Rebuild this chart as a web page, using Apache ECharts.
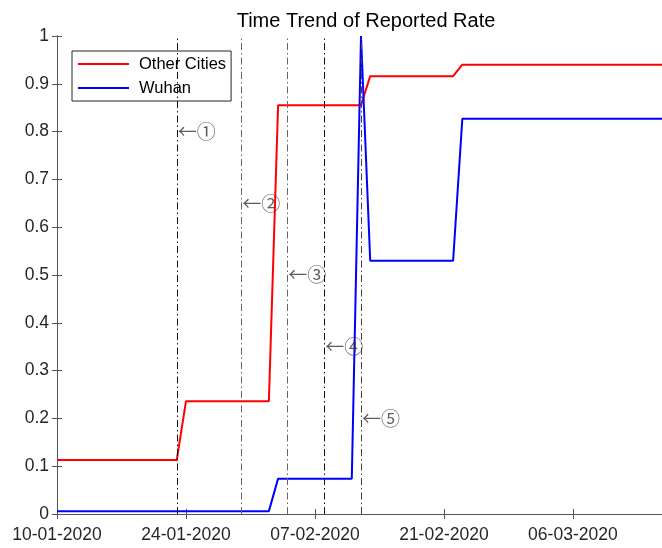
<!DOCTYPE html>
<html>
<head>
<meta charset="utf-8">
<script src="https://cdn.jsdelivr.net/npm/echarts@6/dist/echarts.min.js"></script>
<style>
html,body{margin:0;padding:0;background:#fff;}
#chart{width:662px;height:548px;}
</style>
</head>
<body>
<div id="chart"></div>
<script>
// ---- data ----
const startDate = '2020-01-10';
const endDate = '2020-03-16';
const tickInterval = 14; // days
const otherDates = ['2020-01-10','2020-01-23','2020-01-24','2020-02-02','2020-02-03','2020-02-12','2020-02-13','2020-02-22','2020-02-23','2020-03-16'];
const otherValues = [0.113, 0.113, 0.236, 0.236, 0.855, 0.855, 0.916, 0.916, 0.940, 0.940];
const wuhanDates = ['2020-01-10','2020-02-02','2020-02-03','2020-02-11','2020-02-12','2020-02-13','2020-02-22','2020-02-23','2020-03-16'];
const wuhanValues = [0.006, 0.006, 0.074, 0.074, 1.0, 0.53, 0.53, 0.827, 0.827];
const eventDates = ['2020-01-23','2020-01-30','2020-02-04','2020-02-08','2020-02-12'];
const eventLabels = ['←①','←②','←③','←④','←⑤'];
const eventLabelY = [0.8, 0.65, 0.5, 0.35, 0.2];
const eventColors = ['#111','#666','#666','#111','#444'];
const yTicks = ['0','0.1','0.2','0.3','0.4','0.5','0.6','0.7','0.8','0.9','1'];

// ---- helpers ----
const DAY = 86400000;
const t0 = Date.UTC(2020,0,10);
function dayOf(s){const p=s.split('-');return Math.round((Date.UTC(+p[0],+p[1]-1,+p[2])-t0)/DAY);}
function fmt(d){const dt=new Date(t0+d*DAY);const dd=String(dt.getUTCDate()).padStart(2,'0');const mm=String(dt.getUTCMonth()+1).padStart(2,'0');return dd+'-'+mm+'-'+dt.getUTCFullYear();}
const xMin = dayOf(startDate), xMax = dayOf(endDate);

const textColor = '#262626';
const axisColor = '#555';
const font = 'Liberation Sans';

const chart = echarts.init(document.getElementById('chart'), null, {renderer:'canvas'});
const common = {min:xMin, max:xMax, interval:tickInterval, type:'value'};
const option = {
  animation:false,
  backgroundColor:'#fff',
  title:{text:'Time Trend of Reported Rate', left:361, textAlign:'center', top:6,
    textStyle:{fontFamily:font, fontSize:20, fontWeight:'normal', color:'#000'}},
  legend:{orient:'vertical', left:72, top:51, padding:[3,5,3,6], itemGap:4, icon:'rect',
    itemWidth:51, itemHeight:2, backgroundColor:'#fff', borderColor:'#262626', borderWidth:1, borderRadius:0,
    textStyle:{fontFamily:font, fontSize:16.5, color:'#000', lineHeight:20, padding:[0,0,0,5]},
    data:['Other Cities','Wuhan']},
  grid:{left:57, top:36, width:608, height:478, outerBoundsMode:'none',
    outerBounds:{left:-200, right:-200, top:-200, bottom:-200}},
  xAxis:[
    Object.assign({position:'bottom', axisLine:{lineStyle:{color:axisColor}}, axisTick:{inside:true, length:5, lineStyle:{color:axisColor}},
      splitLine:{show:false},
      axisLabel:{formatter:v=>fmt(v), showMaxLabel:false, margin:12, fontFamily:font, fontSize:17.5, color:textColor}}, common),
    Object.assign({position:'top', axisLine:{lineStyle:{color:axisColor}}, axisTick:{inside:true, length:5, lineStyle:{color:axisColor}},
      splitLine:{show:false}, axisLabel:{show:false}}, common)
  ],
  yAxis:[
    {type:'value', min:0, max:1, interval:0.1, position:'left', axisLine:{show:true, lineStyle:{color:axisColor}},
      axisTick:{show:true, inside:true, length:5, lineStyle:{color:axisColor}}, splitLine:{show:false},
      axisLabel:{formatter:(v)=>yTicks[Math.round(v*10)], margin:8, fontFamily:font, fontSize:17.5, color:textColor}},
    {type:'value', min:0, max:1, interval:0.1, position:'right', axisLine:{show:true, lineStyle:{color:axisColor}},
      axisTick:{show:true, inside:true, length:5, lineStyle:{color:axisColor}}, splitLine:{show:false}, axisLabel:{show:false}}
  ],
  series:[
    {name:'events', type:'line', data:[], xAxisIndex:0, yAxisIndex:0, silent:true,
      markLine:{silent:true, symbol:['none','none'], label:{show:false},
        data: eventDates.map((d,i)=>({xAxis:dayOf(d), lineStyle:{color:eventColors[i], width:1, type:[7,3,1.5,3]}}))}},
    {name:'Other Cities', type:'line', symbol:'none', showSymbol:false, color:'#ff0000',
      lineStyle:{width:2, color:'#ff0000'}, data: otherDates.map((d,i)=>[dayOf(d), otherValues[i]]), z:3},
    {name:'Wuhan', type:'line', symbol:'none', showSymbol:false, color:'#0000ff',
      lineStyle:{width:2, color:'#0000ff'}, data: wuhanDates.map((d,i)=>[dayOf(d), wuhanValues[i]]), z:4},
    {name:'labels', type:'scatter', symbolSize:0, silent:true, z:5,
      data: eventDates.map((d,i)=>({value:[dayOf(d), eventLabelY[i]], label:{formatter:eventLabels[i]}})),
      label:{show:true, position:'right', distance:1, fontFamily:'Noto Sans CJK SC', fontSize:19, color:'#333'}}
  ]
};
chart.setOption(option);
</script>
</body>
</html>
